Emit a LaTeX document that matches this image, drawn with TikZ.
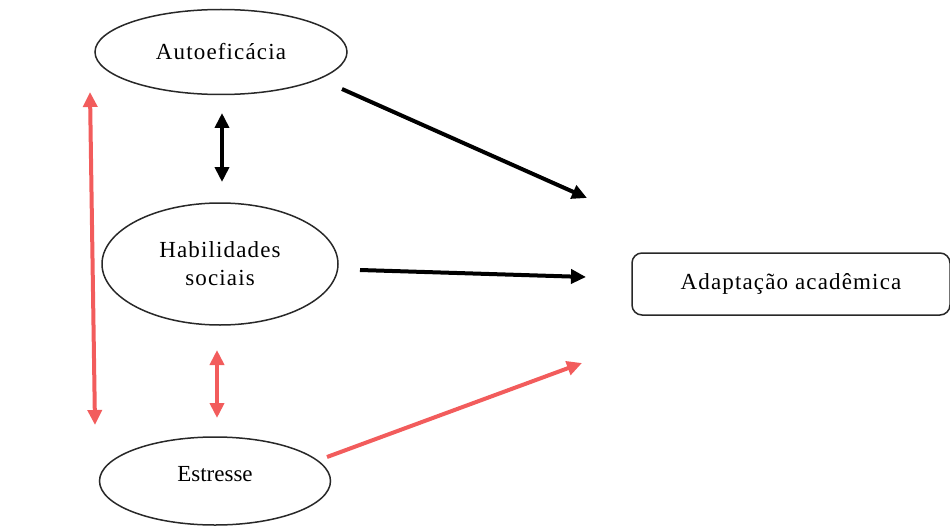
\documentclass[tikz,border=0pt]{standalone}
\usepackage{fontspec}
\setmainfont{Liberation Serif}
\newfontfamily\spacedfont[LetterSpace=5]{Liberation Serif}
\usetikzlibrary{shapes.geometric,arrows.meta}
\definecolor{redarrow}{RGB}{242,92,92}
\definecolor{boxline}{RGB}{40,40,40}
\tikzset{
  oval/.style={ellipse,draw=boxline,line width=1.5pt,inner sep=0pt,align=center,font=\fontsize{23}{28}\selectfont},
  roundbox/.style={rectangle,rounded corners=10pt,draw=boxline,line width=1.5pt,inner sep=0pt,align=center,font=\fontsize{23}{28}\selectfont},
  blackarrow/.style={line width=4pt,black,-{Triangle[length=15pt,width=14pt]}},
  redarr/.style={line width=4pt,redarrow,-{Triangle[length=15pt,width=14pt]}},
  blackdouble/.style={line width=4pt,black,{Triangle[length=15pt,width=14pt]}-{Triangle[length=15pt,width=14pt]}},
  reddouble/.style={line width=4pt,redarrow,{Triangle[length=15pt,width=14pt]}-{Triangle[length=15pt,width=14pt]}}
}
\begin{document}
\begin{tikzpicture}[x=1pt,y=-1pt]
\useasboundingbox (0,0) rectangle (950,532);
\node[oval,minimum width=252pt,minimum height=85pt] (auto) at (221,52) {\spacedfont Autoeficácia};
\node[oval,minimum width=236pt,minimum height=122pt] (hab) at (220,264) {\spacedfont Habilidades\\\spacedfont sociais};
\node[oval,minimum width=231pt,minimum height=88pt] (est) at (215,481) {\raisebox{0pt}[0pt][0pt]{Estresse}};
\node[roundbox,minimum width=318pt,minimum height=62pt] (adap) at (791,284) {\spacedfont Adaptação acadêmica};

\coordinate (a1s) at (342,89);
\coordinate (a1e) at (587,198);
\coordinate (a2s) at (360,270);
\coordinate (a2e) at (586,277);
\coordinate (a3s) at (327,457);
\coordinate (a3e) at (582,363);
\coordinate (d1s) at (222,113);
\coordinate (d1e) at (222,182);
\coordinate (d2s) at (217,350);
\coordinate (d2e) at (217,418);
\coordinate (d3s) at (90,92);
\coordinate (d3e) at (95,425);

\draw[blackarrow] (a1s) -- (a1e);
\draw[blackarrow] (a2s) -- (a2e);
\draw[redarr] (a3s) -- (a3e);
\draw[blackdouble] (d1s) -- (d1e);
\draw[reddouble] (d2s) -- (d2e);
\draw[reddouble] (d3s) -- (d3e);
\end{tikzpicture}
\end{document}
